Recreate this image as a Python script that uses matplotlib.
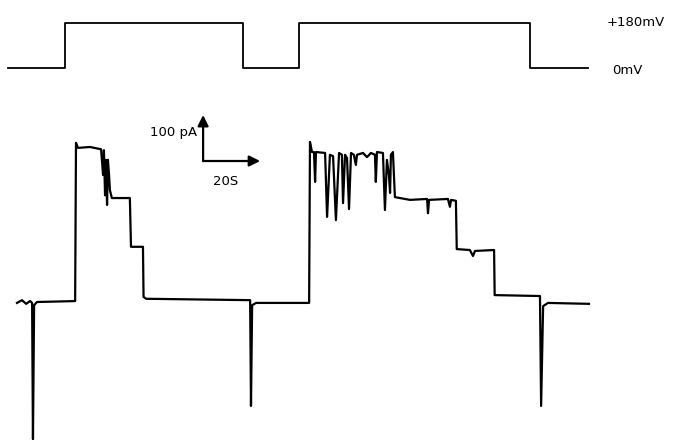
import matplotlib.pyplot as plt
import numpy as np

# voltage protocol (s, mV)
volt_t = [-3.2, 16.8, 16.8, 79.3, 79.3, 99.0, 99.0, 180.0, 180.0, 200.4]
volt_mv = [0, 0, 180, 180, 0, 0, 180, 180, 0, 0]

# current trace (s, pA)
cur_t = [0, 1.75, 3.2, 4.6, 5.3, 5.6, 6.0, 7.0, 20.4, 20.7, 21.4, 25.6, 29.5,
         30.2, 30.5, 30.9, 31.2, 31.6, 31.9, 32.3, 32.6, 33.3, 39.6,
         40.0, 44.2, 44.4, 45.3, 81.8, 82.1, 82.5, 83.9, 102.5, 102.8, 103.5,
         104.2, 104.6, 104.9, 108.1, 108.8, 109.8, 110.9, 111.9, 113.0, 114.0,
         114.4, 115.1, 115.8, 116.5, 117.2, 118.2, 118.9, 119.3, 121.4, 122.8,
         124.2, 125.6, 125.9, 126.3, 128.4, 129.1, 129.8, 130.5, 130.9, 131.2,
         131.9, 132.6, 137.9, 143.9, 144.2, 144.6, 151.2, 151.9, 152.3, 154.0,
         154.3, 158.9, 160.0, 160.7, 167.4, 167.6, 183.5, 183.9, 184.6, 186.3,
         200.7]
cur_pa = [-2, 4, -4, 2, -2, -298, -7, 0, 2, 346, 335, 337, 332,
          276, 330, 232, 309, 211, 309, 276, 243, 226, 226,
          120, 120, 11, 7, 4, -226, -7, -2, -2, 348, 326,
          326, 261, 326, 324, 185, 320, 317, 178, 324, 320,
          215, 320, 313, 202, 324, 320, 298, 320, 324, 315,
          324, 320, 261, 326, 324, 200, 309, 276, 237, 320,
          326, 228, 222, 224, 193, 222, 224, 207, 222, 220,
          115, 113, 100, 111, 113, 15, 13, -226, -9, -2,
          -4]

# scale bar
bar_t, bar_pa = 20, 100
bar_x0, bar_y0 = 65.3, 306.5

px_s = 2.85   # pixels per second
px_pa = 0.46  # pixels per pA
px_mv = 0.25  # pixels per mV

fig = plt.figure(figsize=(6.77, 4.4), dpi=100)
xlim = (-17 / px_s, 660 / px_s)

ax_v = fig.add_axes([0, 0, 1, 1])
ax_v.set_xlim(xlim)
ax_v.set_ylim(-(440 - 68) / px_mv, 68 / px_mv)
ax_v.plot(volt_t, volt_mv, color='black', lw=1.3)
ax_v.text(207, 180, '+180mV', fontsize=9.5, va='center', ha='left')
ax_v.text(208.8, -8, '0mV', fontsize=9.5, va='center', ha='left')
ax_v.axis('off')

ax_i = fig.add_axes([0, 0, 1, 1])
ax_i.patch.set_alpha(0)
ax_i.set_xlim(xlim)
ax_i.set_ylim(-(440 - 302) / px_pa, 302 / px_pa)
ax_i.plot(cur_t, cur_pa, color='black', lw=1.6, solid_joinstyle='round')

arrow = dict(arrowstyle='-|>', color='black', lw=1.6, mutation_scale=16,
             shrinkA=0, shrinkB=0)
ax_i.annotate('', xy=(bar_x0, bar_y0 + bar_pa), xytext=(bar_x0, bar_y0),
              arrowprops=arrow)
ax_i.annotate('', xy=(bar_x0 + bar_t, bar_y0), xytext=(bar_x0, bar_y0),
              arrowprops=arrow)
ax_i.text(bar_x0 - 2, bar_y0 + 0.62 * bar_pa, '100 pA', fontsize=9.5,
          ha='right', va='center')
ax_i.text(bar_x0 + 0.4 * bar_t, bar_y0 - 0.45 * bar_pa, '20S', fontsize=9.5,
          ha='center', va='center')
ax_i.axis('off')

fig.savefig('out.png', dpi=100)
